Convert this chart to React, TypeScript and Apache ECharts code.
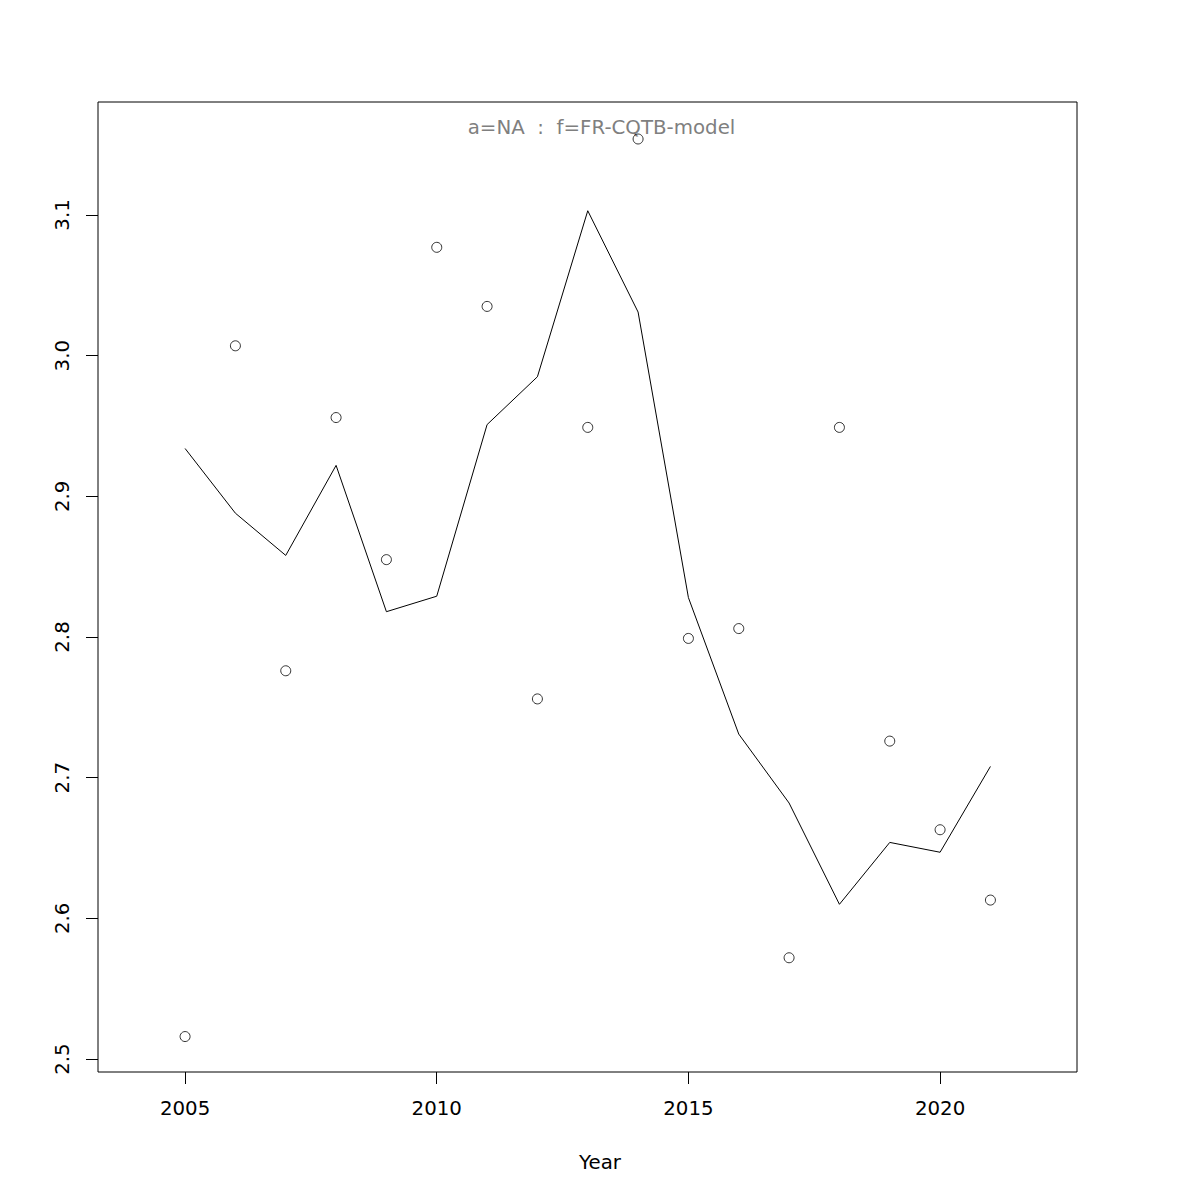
import React, { useEffect, useRef } from "react";
import * as echarts from "echarts";

const years = [2005, 2006, 2007, 2008, 2009, 2010, 2011, 2012, 2013, 2014, 2015, 2016, 2017, 2018, 2019, 2020, 2021];
const observed = [2.516, 3.007, 2.776, 2.956, 2.855, 3.077, 3.035, 2.756, 2.949, 3.154, 2.799, 2.806, 2.572, 2.949, 2.726, 2.663, 2.613];
const fitted = [2.934, 2.888, 2.858, 2.922, 2.818, 2.829, 2.951, 2.985, 3.103, 3.031, 2.828, 2.731, 2.682, 2.610, 2.654, 2.647, 2.708];
const xTicks = [2005, 2010, 2015, 2020];
const yTicks = [2.5, 2.6, 2.7, 2.8, 2.9, 3.0, 3.1];
const titleText = "a=NA  :  f=FR-CQTB-model";
const xName = "Year";

const FONT = "DejaVu Sans";
const FS = 19.8;

export default function App() {
  const ref = useRef<HTMLDivElement>(null);
  useEffect(() => {
    if (!ref.current) return;
    const chart = echarts.init(ref.current, null, { renderer: "svg" });
    const obsData = years.map((y, i) => [y, observed[i]]);
    const fitData = years.map((y, i) => [y, fitted[i]]);
    chart.setOption({
      animation: false,
      backgroundColor: "#ffffff",
      grid: {
        left: 98,
        right: 123,
        top: 102,
        bottom: 128,
        show: true,
        borderColor: "#000000",
        borderWidth: 1,
        backgroundColor: "transparent",
        outerBoundsMode: "none",
        containLabel: false,
      },
      xAxis: {
        type: "value",
        min: 2003.27,
        max: 2022.72,
        axisLine: { show: false },
        splitLine: { show: false },
        axisTick: {
          show: true,
          length: 12,
          inside: false,
          customValues: xTicks,
          lineStyle: { color: "#000000", width: 1 },
        },
        axisLabel: {
          show: true,
          customValues: xTicks,
          margin: 26,
          color: "#000000",
          fontFamily: FONT,
          fontSize: FS,
          formatter: (v: number) => String(Math.round(v)),
        },
      },
      yAxis: {
        type: "value",
        min: 2.4908,
        max: 3.1803,
        axisLine: { show: false },
        splitLine: { show: false },
        axisTick: {
          show: true,
          length: 12,
          inside: false,
          customValues: yTicks,
          lineStyle: { color: "#000000", width: 1 },
        },
        axisLabel: {
          show: true,
          customValues: yTicks,
          rotate: 90,
          margin: 26,
          color: "#000000",
          fontFamily: FONT,
          fontSize: FS,
          formatter: (v: number) => v.toFixed(1),
        },
      },
      graphic: [
        {
          type: "text",
          x: 601.5,
          y: 127,
          style: {
            text: titleText,
            fill: "#7f7f7f",
            font: `${FS}px "${FONT}"`,
            textAlign: "center",
            textVerticalAlign: "middle",
          },
        },
        {
          type: "text",
          x: 600,
          y: 1162,
          style: {
            text: xName,
            fill: "#000000",
            font: `${FS}px "${FONT}"`,
            textAlign: "center",
            textVerticalAlign: "middle",
          },
        },
      ],
      series: [
        {
          type: "line",
          data: fitData,
          showSymbol: false,
          symbol: "none",
          lineStyle: { color: "#000000", width: 1 },
          z: 2,
        },
        {
          type: "scatter",
          data: obsData,
          symbol: "circle",
          symbolSize: 10,
          itemStyle: { color: "rgba(255,255,255,0)", borderColor: "#000000", borderWidth: 1 },
          z: 3,
        },
      ],
    });
    return () => chart.dispose();
  }, []);
  return (
    <div
      ref={ref}
      style={{ position: "fixed", left: 0, top: 0, width: 1200, height: 1200, background: "#ffffff" }}
    />
  );
}
